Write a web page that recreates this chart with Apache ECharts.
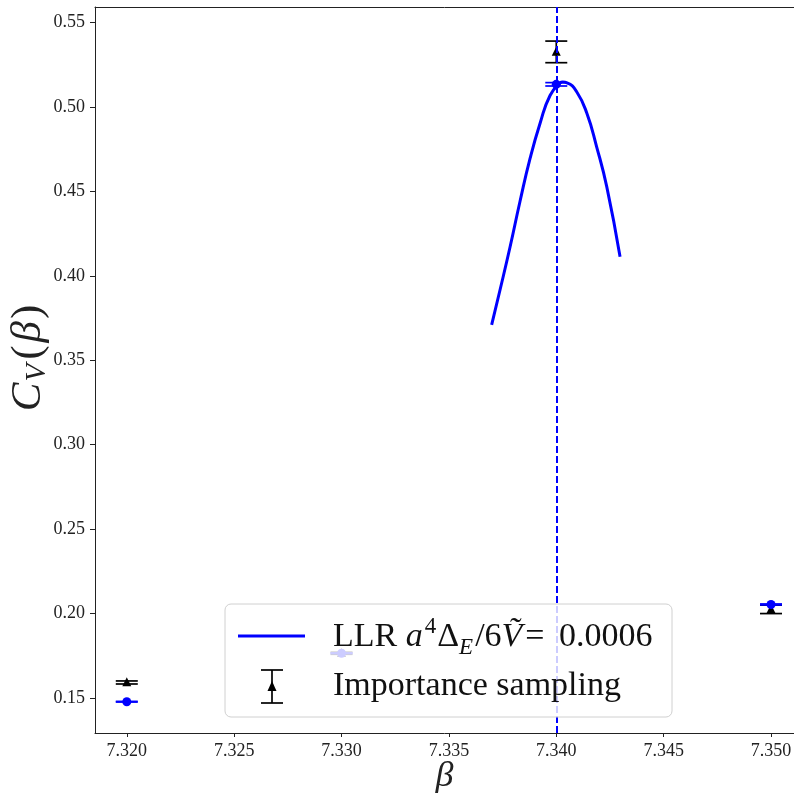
<!DOCTYPE html>
<html>
<head>
<meta charset="utf-8">
<script src="https://cdn.jsdelivr.net/npm/echarts@6/dist/echarts.min.js"></script>
<style>html,body{margin:0;padding:0;background:#fff;}#c{width:794px;height:793px;}</style>
</head>
<body>
<div id="c"></div>
<script>
// ---- data ----
const curveBeta  = [7.33699, 7.33738, 7.33785, 7.33831, 7.33878, 7.33925, 7.33971, 7.34018, 7.34030, 7.34050, 7.34095, 7.34142, 7.34188, 7.34235, 7.34297];
const curveValue = [0.3709, 0.3916, 0.4172, 0.4440, 0.4695, 0.4905, 0.5068, 0.5142, 0.5147, 0.5143, 0.5090, 0.4964, 0.4764, 0.4528, 0.4113];
const peakBeta = 7.34027;

const isBeta  = [7.320, 7.330, 7.340, 7.350];
const isValue = [0.1592, 0.1765, 0.5326, 0.2025];
const isError = [0.0009, 0.0006, 0.0064, 0.0025];

const llrBeta  = [7.320, 7.330, 7.340, 7.350];
const llrValue = [0.1478, 0.1765, 0.5134, 0.2054];
const llrError = [0.0002, 0.0002, 0.0010, 0.0003];

const xTicks = [7.320, 7.325, 7.330, 7.335, 7.340, 7.345, 7.350];
const yTicks = [0.15, 0.20, 0.25, 0.30, 0.35, 0.40, 0.45, 0.50, 0.55];

const legendLabels = ['LLR', 'Importance sampling'];

// ---- chart ----
const FONT = 'Liberation Serif';
const BLUE = '#0000ff';
const curveData = curveBeta.map((b, i) => [b, curveValue[i]]);
const isData = isBeta.map((b, i) => [b, isValue[i], isValue[i] - isError[i], isValue[i] + isError[i]]);
const llrData = llrBeta.map((b, i) => [b, llrValue[i], llrValue[i] - llrError[i], llrValue[i] + llrError[i]]);

function errRender(color, marker) {
  return function (params, api) {
    const x = api.value(0), y = api.value(1), lo = api.value(2), hi = api.value(3);
    const p = api.coord([x, y]);
    const pl = api.coord([x, lo]);
    const ph = api.coord([x, hi]);
    const cw = 11;
    const st = { stroke: color, lineWidth: 1.7 };
    const children = [
      { type: 'line', shape: { x1: pl[0], y1: pl[1], x2: ph[0], y2: ph[1] }, style: st },
      { type: 'line', shape: { x1: pl[0] - cw, y1: pl[1], x2: pl[0] + cw, y2: pl[1] }, style: st },
      { type: 'line', shape: { x1: ph[0] - cw, y1: ph[1], x2: ph[0] + cw, y2: ph[1] }, style: st }
    ];
    if (marker === 'triangle') {
      const s = 4.5;
      children.push({ type: 'polygon', shape: { points: [[p[0], p[1] - s * 1.15], [p[0] - s, p[1] + s * 0.85], [p[0] + s, p[1] + s * 0.85]] }, style: { fill: color } });
    } else {
      children.push({ type: 'circle', shape: { cx: p[0], cy: p[1], r: 4.5 }, style: { fill: color } });
    }
    return { type: 'group', children: children };
  };
}

const chart = echarts.init(document.getElementById('c'), null, { renderer: 'canvas' });

const xMin = 7.31852, xMax = 7.35107, yMin = 0.12928, yMax = 0.55918;

const option = {
  animation: false,
  backgroundColor: '#fff',
  textStyle: { fontFamily: FONT },
  grid: { left: 95, right: 0, top: 7, bottom: 60, containLabel: false, outerBoundsMode: 'none' },
  xAxis: [{
    type: 'value', min: xMin, max: xMax,
    axisLine: { show: true, lineStyle: { color: '#222', width: 1 } },
    axisTick: { show: true, length: 4, customValues: xTicks, lineStyle: { color: '#222' } },
    axisLabel: { customValues: xTicks, fontFamily: FONT, fontSize: 18, color: '#222', margin: 9,
      formatter: v => v.toFixed(3) },
    splitLine: { show: false },
    name: '{i|β}', nameLocation: 'middle', nameGap: 26, nameMoveOverlap: false,
    nameTextStyle: { rich: { i: { fontFamily: FONT, fontStyle: 'italic', fontSize: 36, color: '#222' } } }
  }, {
    type: 'value', position: 'top', min: xMin, max: xMax,
    axisLine: { show: true, onZero: false, lineStyle: { color: '#222', width: 1 } },
    axisTick: { show: false }, axisLabel: { show: false }, splitLine: { show: false }
  }],
  yAxis: [{
    type: 'value', min: yMin, max: yMax,
    axisLine: { show: true, lineStyle: { color: '#222', width: 1 } },
    axisTick: { show: true, length: 5, customValues: yTicks, lineStyle: { color: '#222' } },
    axisLabel: { customValues: yTicks, fontFamily: FONT, fontSize: 18, color: '#222', margin: 10,
      formatter: v => v.toFixed(2) },
    splitLine: { show: false },
    name: '{c|C}{s|V}{n|(}{i|β}{p|)}', nameLocation: 'middle', nameGap: 43, nameRotate: 90, nameMoveOverlap: false,
    nameTextStyle: { rich: {
      c: { fontFamily: FONT, fontStyle: 'italic', fontSize: 43, color: '#222', lineHeight: 46, verticalAlign: 'middle', padding: [0, 0, 0, 24] },
      i: { fontFamily: FONT, fontStyle: 'italic', fontSize: 43, color: '#222', lineHeight: 46, verticalAlign: 'middle', padding: [0, 2, 0, 2] },
      n: { fontFamily: FONT, fontSize: 43, color: '#222', lineHeight: 46, verticalAlign: 'middle', padding: [0, 1, 0, 0] },
      p: { fontFamily: FONT, fontSize: 43, color: '#222', lineHeight: 46, verticalAlign: 'middle' },
      s: { fontFamily: FONT, fontStyle: 'italic', fontSize: 29, color: '#222', lineHeight: 30, verticalAlign: 'bottom', padding: [0, 4, 0, 1] }
    } }
  }],
  series: [
    {
      type: 'line', name: legendLabels[0], data: curveData, showSymbol: false, smooth: 0.5,
      lineStyle: { color: BLUE, width: 3 }, itemStyle: { color: BLUE }, z: 2,
      markLine: {
        silent: true, symbol: 'none', label: { show: false },
        lineStyle: { color: BLUE, width: 2, type: [7, 3] },
        data: [{ xAxis: peakBeta }]
      }
    },
    { type: 'custom', name: legendLabels[1], data: isData, renderItem: errRender('#000', 'triangle'), encode: { x: 0, y: 1 }, z: 3 },
    { type: 'custom', name: 'LLR points', data: llrData, renderItem: errRender(BLUE, 'circle'), encode: { x: 0, y: 1 }, z: 4 }
  ],
  graphic: [{
    type: 'group', z: 100,
    children: [
      { type: 'rect', z: 100, shape: { x: 225, y: 604, width: 447, height: 113, r: 6 },
        style: { fill: 'rgba(255,255,255,0.8)', stroke: '#d0d0d0', lineWidth: 1 } },
      { type: 'line', z: 101, shape: { x1: 238, y1: 636, x2: 305, y2: 636 }, style: { stroke: BLUE, lineWidth: 3 } },
      { type: 'line', z: 101, shape: { x1: 272, y1: 670, x2: 272, y2: 703 }, style: { stroke: '#000', lineWidth: 1.7 } },
      { type: 'line', z: 101, shape: { x1: 261, y1: 670, x2: 283, y2: 670 }, style: { stroke: '#000', lineWidth: 1.7 } },
      { type: 'line', z: 101, shape: { x1: 261, y1: 703, x2: 283, y2: 703 }, style: { stroke: '#000', lineWidth: 1.7 } },
      { type: 'polygon', z: 101, shape: { points: [[272, 681], [267.5, 691], [276.5, 691]] }, style: { fill: '#000' } },
      { type: 'text', z: 101, x: 333, y: 637,
        style: {
          text: '{n|' + legendLabels[0] + ' }{i|a}{sup|4}{n|Δ}{sub|E}{n|/6}{v|Ṽ}{n|=}{g| }{n|0.0006}',
          verticalAlign: 'middle', align: 'left',
          rich: {
            n: { fontFamily: FONT, fontSize: 34, fill: '#111', lineHeight: 44, verticalAlign: 'middle' },
            g: { fontFamily: FONT, fontSize: 34, fill: '#111', lineHeight: 44, verticalAlign: 'middle', padding: [0, 6, 0, 0] },
            i: { fontFamily: FONT, fontStyle: 'italic', fontSize: 34, fill: '#111', lineHeight: 44, verticalAlign: 'middle', padding: [0, 1, 0, 0] },
            v: { fontFamily: FONT, fontStyle: 'italic', fontSize: 34, fill: '#111', lineHeight: 44, verticalAlign: 'middle', padding: [0, 3, 0, 0] },
            sup: { fontFamily: FONT, fontSize: 23, fill: '#111', lineHeight: 20, verticalAlign: 'top', padding: [0, 1, 0, 1] },
            sub: { fontFamily: FONT, fontStyle: 'italic', fontSize: 23, fill: '#111', lineHeight: 24, verticalAlign: 'bottom', padding: [0, 2, 0, 0] }
          }
        } },
      { type: 'text', z: 101, x: 333, y: 686,
        style: { text: legendLabels[1], fontFamily: FONT, fontSize: 34, fill: '#111', verticalAlign: 'middle', align: 'left' } }
    ]
  }]
};
chart.setOption(option);
</script>
</body>
</html>
